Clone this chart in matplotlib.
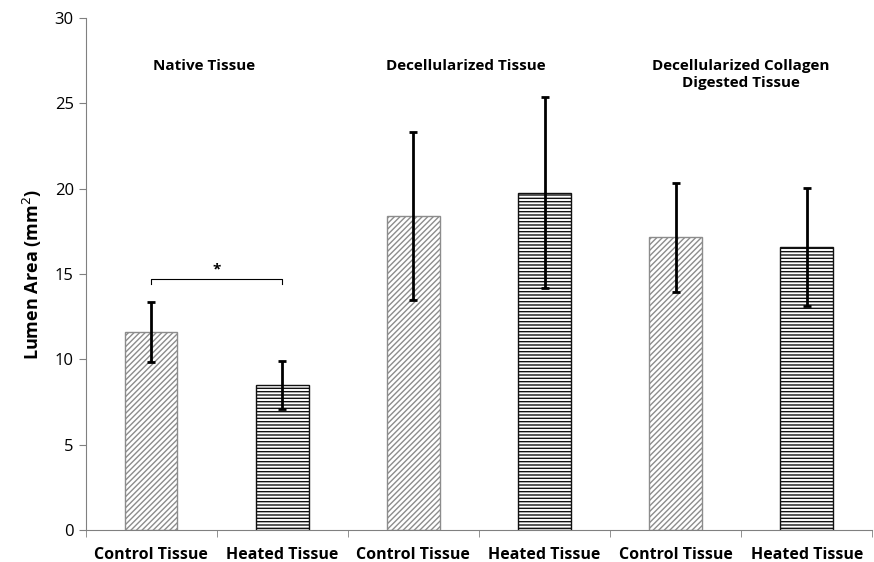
import matplotlib
matplotlib.use("Agg")
import matplotlib.pyplot as plt
import numpy as np

categories = ["Control Tissue", "Heated Tissue", "Control Tissue",
              "Heated Tissue", "Control Tissue", "Heated Tissue"]
means = [11.6, 8.5, 18.4, 19.75, 17.15, 16.6]
errors = [1.75, 1.4, 4.9, 5.6, 3.2, 3.45]
group_labels = ["Native Tissue", "Decellularized Tissue",
                "Decellularized Collagen\nDigested Tissue"]
hatches = ["//////", "-----"] * 3
colors = ["#8c8c8c", "#111111"] * 3

plt.rcParams["font.family"] = ["Open Sans", "DejaVu Sans"]
plt.rcParams["hatch.linewidth"] = 1.0

fig = plt.figure(figsize=(8.74, 5.62), dpi=100)
ax = fig.add_axes([0.098, 0.057, 0.9, 0.911])

x = np.arange(len(categories))
for xi, m, h, c in zip(x, means, hatches, colors):
    ax.bar(xi, m, width=0.4, color="white", edgecolor=c, hatch=h, linewidth=1.0)
ax.errorbar(x, means, yerr=errors, fmt="none", ecolor="black",
            elinewidth=2, capsize=3, capthick=2)

# significance bracket
y_br = 14.7
ax.plot([0, 0, 1, 1], [y_br - 0.3, y_br, y_br, y_br - 0.3], color="black", lw=0.8)
ax.text(0.5, y_br + 0.15, "*", ha="center", va="bottom", fontsize=11, fontweight="bold")

group_x = [0.4, 2.4, 4.5]
for gx, label in zip(group_x, group_labels):
    ax.text(gx, 27.6, label, ha="center", va="top", fontsize=11,
            fontweight="bold", linespacing=1.3)

ax.set_xlim(-0.5, len(categories) - 0.5)
ax.set_ylim(0, 30)
ax.set_yticks(np.arange(0, 31, 5))
ax.set_xticks(x)
ax.set_xticklabels(categories, fontweight="bold", fontsize=11.5)
ax.tick_params(axis="x", which="major", length=0, pad=12)
ax.set_xticks(np.arange(-0.5, len(categories), 1.0), minor=True)
ax.tick_params(axis="x", which="minor", length=5, color="#808080")
ax.tick_params(axis="y", length=5, color="#808080", labelsize=12)
ax.set_ylabel("Lumen Area (mm$^2$)", fontsize=13, fontweight="bold", labelpad=8)

for side in ["top", "right"]:
    ax.spines[side].set_visible(False)
for side in ["left", "bottom"]:
    ax.spines[side].set_color("#808080")

fig.savefig("out.png", dpi=100)
